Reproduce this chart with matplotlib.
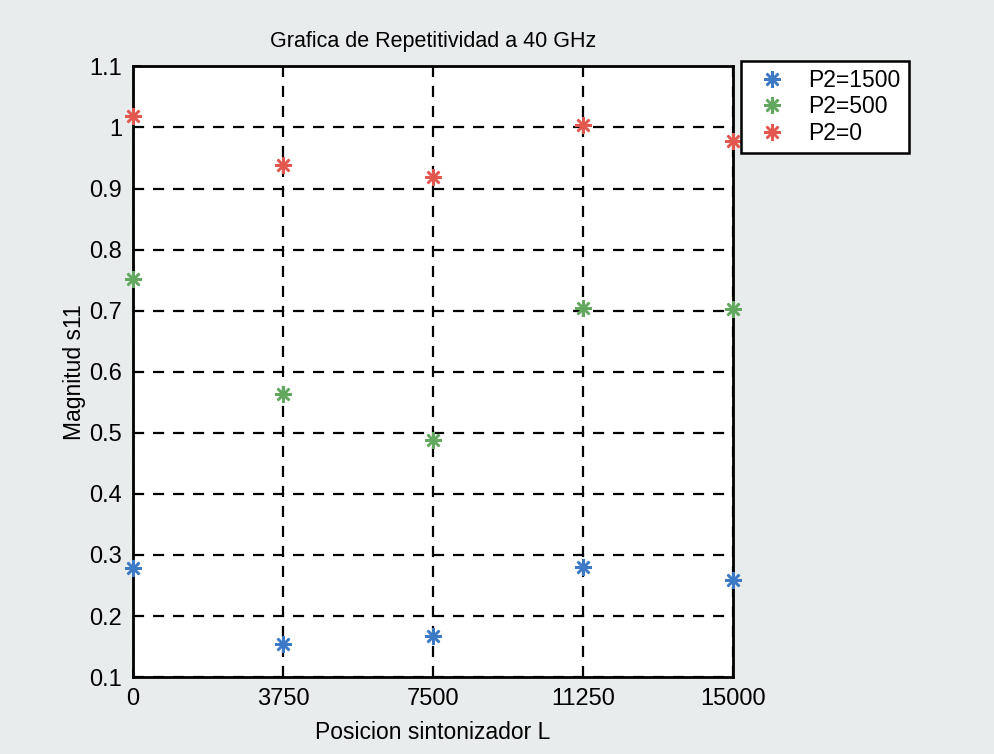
import matplotlib.pyplot as plt
import matplotlib as mpl

# posiciones del sintonizador y magnitud s11 medida para cada P2
posicion = [0, 3750, 7500, 11250, 15000]
p2_1500 = [0.278, 0.155, 0.168, 0.280, 0.259]
p2_500 = [0.752, 0.564, 0.489, 0.705, 0.703]
p2_0 = [1.019, 0.938, 0.919, 1.004, 0.977]
etiquetas = ["P2=1500", "P2=500", "P2=0"]

yticks = [0.1, 0.2, 0.3, 0.4, 0.5, 0.6, 0.7, 0.8, 0.9, 1.0, 1.1]
ytick_labels = ["0.1", "0.2", "0.3", "0.4", "0.5", "0.6", "0.7", "0.8", "0.9", "1", "1.1"]

mpl.rcParams["font.family"] = ["Liberation Sans", "DejaVu Sans"]
mpl.rcParams["font.size"] = 16

fig = plt.figure(figsize=(9.95, 7.54), dpi=100, facecolor="#e8ecec")
ax = fig.add_axes([0.1337, 0.102, 0.603, 0.810])
ax.set_facecolor("white")

# asterisco de 8 brazos, como el '*' de MATLAB
asterisco = (8, 2, 0)
colores = ["#3c7ac6", "#62a85f", "#e2584f"]
for serie, col, lab in zip([p2_1500, p2_500, p2_0], colores, etiquetas):
    ax.plot(posicion, serie, linestyle="none", marker=asterisco, markersize=12,
            color=col, markeredgecolor=col, markeredgewidth=1.8, label=lab,
            clip_on=False, zorder=5)

ax.set_xlim(0, 15000)
ax.set_ylim(0.1, 1.1)
ax.set_xticks(posicion)
ax.set_xticklabels([str(p) for p in posicion])
ax.set_yticks(yticks)
ax.set_yticklabels(ytick_labels)
ax.tick_params(direction="in", length=6, width=1.2, pad=8, labelsize=17)
ax.grid(True, color="black", linestyle=(0, (5, 4)), linewidth=1.6)
for s in ax.spines.values():
    s.set_linewidth(2)

ax.set_title("Grafica de Repetitividad a 40 GHz", fontsize=15.5, pad=14)
ax.set_xlabel("Posicion sintonizador L", fontsize=16.5, labelpad=8)
ax.set_ylabel("Magnitud s11", fontsize=16.5, labelpad=2)

leg = fig.legend(loc="upper left", bbox_to_anchor=(741 / 995, 1 - 61 / 754),
                 numpoints=1, fontsize=16.5, fancybox=False, framealpha=1,
                 edgecolor="black", borderpad=0.35, handletextpad=0.6,
                 labelspacing=0.15, borderaxespad=0, handlelength=2.0)
leg.get_frame().set_linewidth(1.8)

fig.savefig("out.png", dpi=100, facecolor=fig.get_facecolor())
